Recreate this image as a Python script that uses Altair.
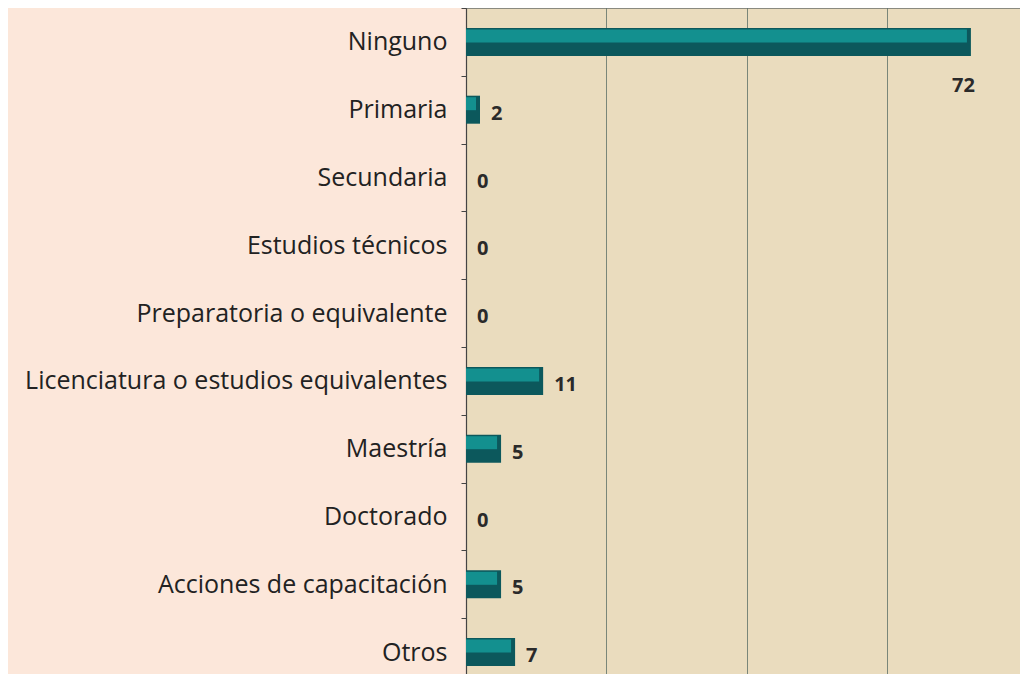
import altair as alt
import pandas as pd

categories = [
    "Ninguno",
    "Primaria",
    "Secundaria",
    "Estudios técnicos",
    "Preparatoria o equivalente",
    "Licenciatura o estudios equivalentes",
    "Maestría",
    "Doctorado",
    "Acciones de capacitación",
    "Otros",
]
values = [72, 2, 0, 0, 0, 11, 5, 0, 5, 7]

df = pd.DataFrame({"cat": categories, "val": values})

W = 554
H = 666

y_enc = alt.Y(
    "cat:N",
    sort=categories,
    scale=alt.Scale(range=[0, 678], paddingInner=0, paddingOuter=0),
    axis=alt.Axis(
        title=None,
        tickBand="extent",
        tickSize=5,
        tickColor="#444444",
        domainColor="#444444",
        domainWidth=1.2,
        labelFont="Open Sans",
        labelFontSize=25,
        labelFontWeight=500,
        labelColor="#222222",
        labelPadding=14,
        labelLimit=470,
        grid=False,
    ),
)
x_enc = alt.X(
    "val:Q",
    scale=alt.Scale(domain=[0, 79], nice=False),
    axis=alt.Axis(
        title=None,
        values=[0, 20, 40, 60],
        labels=False,
        ticks=False,
        domain=False,
        grid=True,
        gridColor="#5E7068",
        gridWidth=1,
        gridOpacity=0.8,
    ),
)

base = alt.Chart(df).encode(y=y_enc, x=x_enc)
nonzero = base.transform_filter(alt.datum.val > 0)

bar_dark = nonzero.mark_bar(size=28, color="#0C585C")
bar_light = nonzero.mark_bar(size=13, yOffset=-6, color="#13908F", xOffset=-4).encode(
    x2=alt.datum(0)
)

labels = base.transform_filter(alt.datum.val < 50).mark_text(
    align="left", baseline="middle", dx=11, dy=4,
    font="Open Sans", fontSize=20, fontWeight="bold", color="#2A2A2A",
).encode(text="val:Q")

big_label = base.transform_filter(alt.datum.val >= 50).mark_text(
    align="right", baseline="middle", dx=4, dy=44,
    font="Open Sans", fontSize=20, fontWeight="bold", color="#2A2A2A",
).encode(text="val:Q")

chart = (
    alt.layer(bar_dark, bar_light, labels, big_label)
    .properties(
        width=W,
        height=H,
        background="#FCE7DA",
        padding={"left": 458, "top": 0, "right": 0, "bottom": 0},
        autosize=alt.AutoSizeParams(type="none"),
    )
    .configure_view(fill="#EADCBE", stroke="#8A8A80", strokeWidth=1)
)

chart.save("out.html", embed_options={"renderer": "svg", "actions": False})
